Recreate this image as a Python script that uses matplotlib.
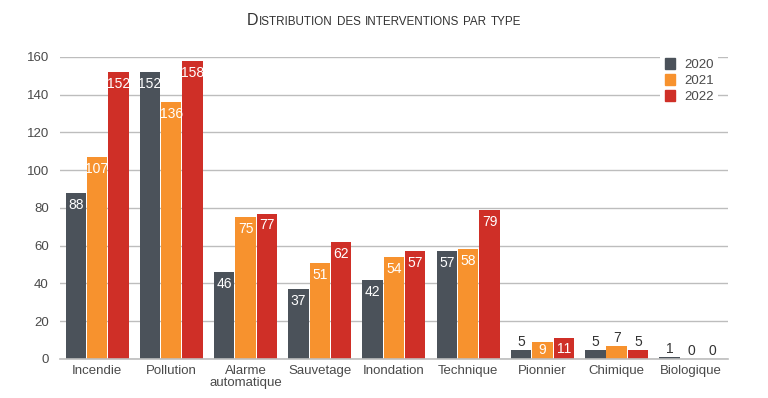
import numpy as np
import matplotlib.pyplot as plt
from matplotlib.patches import Patch

plt.rcParams["font.family"] = ["Liberation Sans", "DejaVu Sans"]

categories = ["Incendie", "Pollution", "Alarme\nautomatique", "Sauvetage", "Inondation",
              "Technique", "Pionnier", "Chimique", "Biologique"]
years = ["2020", "2021", "2022"]
v2020 = [88, 152, 46, 37, 42, 57, 5, 5, 1]
v2021 = [107, 136, 75, 51, 54, 58, 9, 7, 0]
v2022 = [152, 158, 77, 62, 57, 79, 11, 5, 0]

colors = ["#4b525a", "#f7922e", "#cf2f27"]
grid_col = "#bdbdbd"
txt_col = "#4a4a4a"

fig = plt.figure(figsize=(7.68, 3.98), dpi=100)
ax = fig.add_axes([0.078, 0.098, 0.870, 0.759])

x = np.arange(len(categories))
w = 0.275
for i, (vals, c) in enumerate(zip([v2020, v2021, v2022], colors)):
    pos = x + (i - 1) * (w + 0.012)
    ax.bar(pos, vals, width=w, color=c, zorder=3)
    for px, v in zip(pos, vals):
        if v >= 20:
            ax.annotate(str(v), (px, v), xytext=(0, -3.5), textcoords="offset points",
                        ha="center", va="top", color="white", fontsize=10, zorder=4)
        elif v >= 9:
            ax.annotate(str(v), (px, v / 2), ha="center", va="center",
                        color="white", fontsize=10, zorder=4)
        else:
            ax.annotate(str(v), (px, v), xytext=(0, 0.5), textcoords="offset points",
                        ha="center", va="bottom", color="#333333", fontsize=10, zorder=4)

ax.set_xlim(-0.5, len(categories) - 0.5)
ax.set_ylim(0, 160)
ax.set_yticks(range(0, 161, 20))
ax.set_xticks(x)
ax.set_xticklabels(categories, linespacing=1.0)
ax.tick_params(length=0, labelsize=9.5, colors=txt_col, pad=4)
ax.tick_params(axis="y", pad=8)
ax.grid(axis="y", color=grid_col, linewidth=1, zorder=0)
for s in ["top", "right", "left"]:
    ax.spines[s].set_visible(False)
ax.spines["bottom"].set_color(grid_col)
ax.spines["bottom"].set_linewidth(1.2)
ax.spines["bottom"].set_zorder(5)

handles = [Patch(color=c) for c in colors]
leg = ax.legend(handles, years, loc="upper right", bbox_to_anchor=(0.995, 1.035),
                frameon=True, fontsize=9.5, handlelength=0.75, handleheight=0.9,
                handletextpad=0.7, labelspacing=0.25, borderpad=0.35)
leg.get_frame().set_edgecolor("none")
leg.get_frame().set_facecolor("white")
leg.get_frame().set_alpha(1)
for t in leg.get_texts():
    t.set_color(txt_col)

# small-caps title, built from pieces
title = "Distribution des interventions par type"
big, small = 11.5, 8.4
pieces = []
for k, word in enumerate(title.split()):
    if k > 0:
        pieces.append((" ", small))
    if k == 0:
        pieces.append((word[0].upper(), big))
        pieces.append((word[1:].upper(), small))
    else:
        pieces.append((word.upper(), small))
texts = [fig.text(0, 0.937, s, fontsize=sz, color="#333333", va="baseline", ha="left")
         for s, sz in pieces]
fig.canvas.draw()
r = fig.canvas.get_renderer()
widths = []
for t, (s, sz) in zip(texts, pieces):
    if s == " ":
        widths.append(4.3)
    else:
        widths.append(t.get_window_extent(r).width)
total = sum(widths)
cx = 0.5 * fig.bbox.width
cur = cx - total / 2
for t, wd in zip(texts, widths):
    t.set_x(cur / fig.bbox.width)
    cur += wd

fig.savefig("out.png", dpi=100)
